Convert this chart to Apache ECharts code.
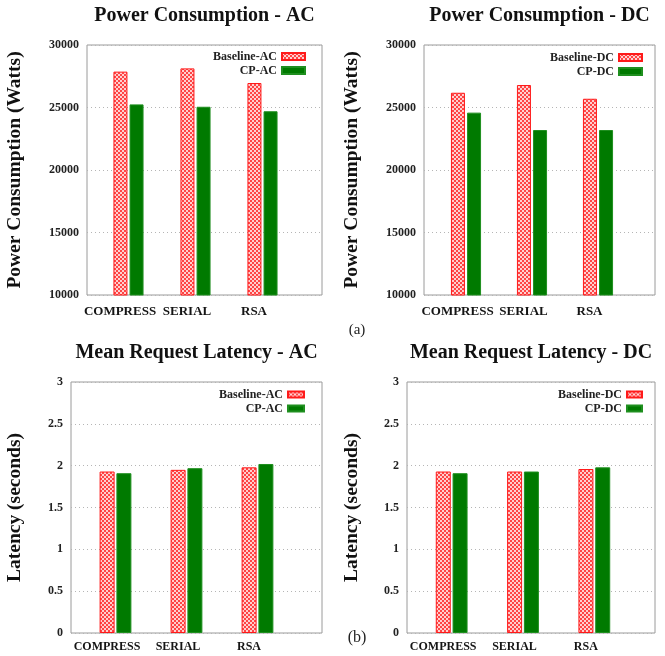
<!DOCTYPE html>
<html><head><meta charset="utf-8">
<script src="https://cdn.jsdelivr.net/npm/echarts@6/dist/echarts.min.js"></script>
<style>html,body{margin:0;padding:0;background:#fff}#c{width:665px;height:656px}</style>
</head><body><div id="c"></div>
<script>
// ---- data ----
const categories = ['COMPRESS', 'SERIAL', 'RSA'];
const powerBaselineAC = [27870, 28130, 26960];
const powerCPAC = [25250, 25060, 24700];
const powerBaselineDC = [26180, 26800, 25700];
const powerCPDC = [24590, 23200, 23200];
const latencyBaselineAC = [1.93, 1.95, 1.98];
const latencyCPAC = [1.91, 1.97, 2.02];
const latencyBaselineDC = [1.93, 1.93, 1.96];
const latencyCPDC = [1.91, 1.93, 1.98];
const powerScale = [10000, 30000, 5000];
const latencyScale = [0, 3, 0.5];
const titles = ['Power Consumption - AC', 'Power Consumption - DC', 'Mean Request Latency - AC', 'Mean Request Latency - DC'];
const yNames = ['Power Consumption (Watts)', 'Latency (seconds)'];
const seriesNames = [['Baseline-AC', 'CP-AC'], ['Baseline-DC', 'CP-DC']];
const subLabels = ['(a)', '(b)'];

// ---- layout ----
const FONT = '"Liberation Serif", "Times New Roman", serif';
const panels = [
  { frame: { left: 87, top: 45, width: 235, height: 250 }, data: { left: 95, width: 201 }, scale: powerScale, yName: yNames[0], nameGap: 62,
    title: titles[0], titleY: 16, names: seriesNames[0], values: [powerBaselineAC, powerCPAC], barWidth: 14, barGap: '15%',
    legend: { right: 359, top: 50, itemWidth: 23, itemHeight: 7 }, labelMargin: 10, labelSize: 13 },
  { frame: { left: 424, top: 45, width: 231, height: 250 }, data: { left: 433, width: 198 }, scale: powerScale, yName: yNames[0], nameGap: 62,
    title: titles[1], titleY: 16, names: seriesNames[1], values: [powerBaselineDC, powerCPDC], barWidth: 14, barGap: '15%',
    legend: { right: 22, top: 51, itemWidth: 23, itemHeight: 7 }, labelMargin: 10, labelSize: 13 },
  { frame: { left: 71, top: 382, width: 251, height: 251 }, data: { left: 80, width: 213 }, scale: latencyScale, yName: yNames[1], nameGap: 46,
    title: titles[2], titleY: 353, names: seriesNames[0], values: [latencyBaselineAC, latencyCPAC], barWidth: 15, barGap: '12%',
    legend: { right: 360, top: 388, itemWidth: 16, itemHeight: 6 }, labelMargin: 8, labelSize: 12 },
  { frame: { left: 407, top: 382, width: 248, height: 251 }, data: { left: 416, width: 214 }, scale: latencyScale, yName: yNames[1], nameGap: 45,
    title: titles[3], titleY: 353, names: seriesNames[1], values: [latencyBaselineDC, latencyCPDC], barWidth: 15, barGap: '12%',
    legend: { right: 22, top: 388, itemWidth: 15, itemHeight: 6 }, labelMargin: 8, labelSize: 12 }
];

function makePattern() {
  const c = document.createElement('canvas');
  c.width = 4; c.height = 4;
  const g = c.getContext('2d');
  g.fillStyle = '#ff4545'; g.fillRect(0, 0, 4, 4);
  g.fillStyle = '#ffd0d0'; g.fillRect(0, 0, 2, 2); g.fillRect(2, 2, 2, 2);
  return c;
}
const pattern = { image: makePattern(), repeat: 'repeat' };

const grid = [], xAxis = [], yAxis = [], series = [], legend = [], graphic = [];
panels.forEach((p, i) => {
  const f = p.frame;
  grid.push({ left: f.left, top: f.top, width: f.width, height: f.height, show: true, borderColor: '#9a9a9a', borderWidth: 1, backgroundColor: 'transparent', containLabel: false });
  grid.push({ left: p.data.left, top: f.top, width: p.data.width, height: f.height, containLabel: false });
  xAxis.push({ gridIndex: 2 * i, type: 'value', show: false, min: 0, max: 1 });
  xAxis.push({ gridIndex: 2 * i + 1, type: 'category', data: categories, axisLine: { show: false }, axisTick: { show: false },
    axisLabel: { interval: 0, margin: p.labelMargin, padding: [0, 17, 0, 0], fontFamily: FONT, fontWeight: 'bold', fontSize: p.labelSize, color: '#151515' } });
  yAxis.push({ gridIndex: 2 * i, type: 'value', min: p.scale[0], max: p.scale[1], interval: p.scale[2],
    name: p.yName, nameLocation: 'middle', nameRotate: 90, nameGap: p.nameGap,
    nameTextStyle: { fontFamily: FONT, fontWeight: 'bold', fontSize: 19.5, color: '#111' },
    axisLine: { show: false }, axisTick: { show: false },
    axisLabel: { margin: 8, fontFamily: FONT, fontWeight: 'bold', fontSize: 12, color: '#222', formatter: v => String(v) },
    splitLine: { show: true, lineStyle: { type: [1, 3], color: '#b5b5b5', width: 1 } } });
  yAxis.push({ gridIndex: 2 * i + 1, type: 'value', min: p.scale[0], max: p.scale[1], interval: p.scale[2], show: false, splitLine: { show: false } });
  series.push({ name: p.names[0], type: 'bar', xAxisIndex: 2 * i + 1, yAxisIndex: 2 * i + 1, data: p.values[0],
    barWidth: p.barWidth, barGap: p.barGap, itemStyle: { color: pattern, borderColor: '#ff1a1a', borderWidth: 1 }, animation: false });
  series.push({ name: p.names[1], type: 'bar', xAxisIndex: 2 * i + 1, yAxisIndex: 2 * i + 1, data: p.values[1],
    barWidth: p.barWidth, barGap: p.barGap, itemStyle: { color: '#007a00', borderColor: '#1f8f1f', borderWidth: 1 }, animation: false });
  legend.push({ data: p.names, orient: 'vertical', right: p.legend.right, top: p.legend.top, align: 'right', icon: 'rect',
    itemWidth: p.legend.itemWidth, itemHeight: p.legend.itemHeight, itemGap: 1, padding: 0, selectedMode: false,
    textStyle: { fontFamily: FONT, fontWeight: 'bold', fontSize: 12, color: '#222', lineHeight: 13 } });
  graphic.push({ type: 'text', x: f.left + f.width / 2, y: p.titleY,
    style: { text: p.title, font: 'bold 20px ' + FONT, fill: '#111', align: 'center', verticalAlign: 'middle', textAlign: 'center', textVerticalAlign: 'middle' } });
});
graphic.push({ type: 'text', x: 357, y: 330, style: { text: subLabels[0], font: '15px ' + FONT, fill: '#222', align: 'center', verticalAlign: 'middle', textAlign: 'center', textVerticalAlign: 'middle' } });
graphic.push({ type: 'text', x: 357, y: 638, style: { text: subLabels[1], font: '16px ' + FONT, fill: '#222', align: 'center', verticalAlign: 'middle', textAlign: 'center', textVerticalAlign: 'middle' } });

const chart = echarts.init(document.getElementById('c'), null, { renderer: 'canvas' });
chart.setOption({ animation: false, backgroundColor: '#fff', grid, xAxis, yAxis, series, legend, graphic });
</script></body></html>
